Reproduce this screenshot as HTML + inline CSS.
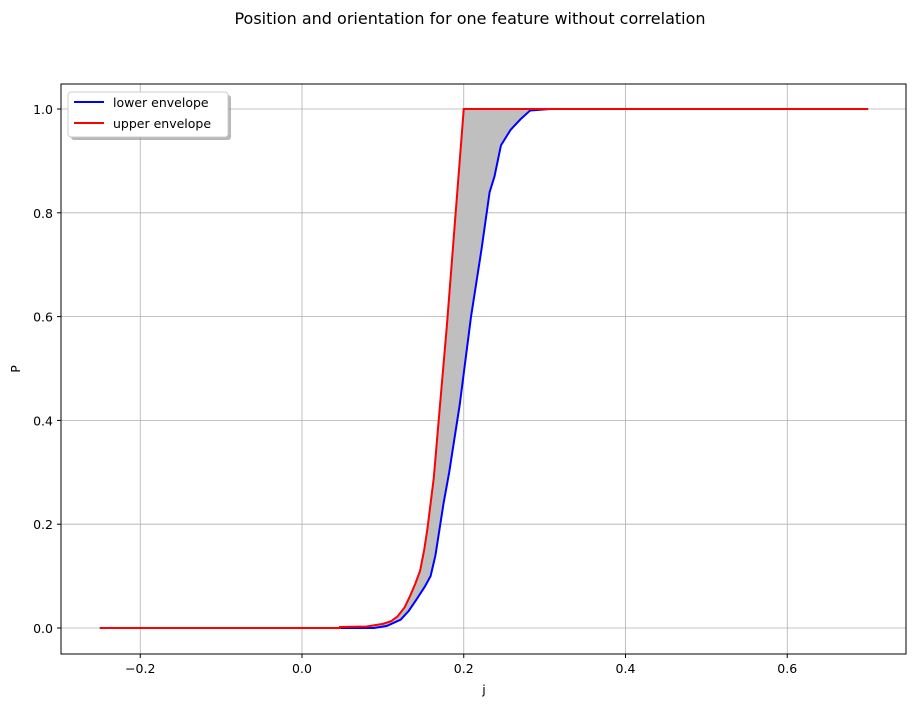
<!DOCTYPE html>
<html><head><meta charset="utf-8"><style>
body{margin:0;background:#fff;font-family:"Liberation Sans","DejaVu Sans",sans-serif}
svg text{font-family:"DejaVu Sans","Liberation Sans",sans-serif}
</style></head><body>
<svg id="chart" width="916" height="707">
<text x="470" y="24" font-size="16" text-anchor="middle">Position and orientation for one feature without correlation</text>
<g id="grid"></g>
<g id="series"></g>
<rect x="61" y="84" width="845" height="570" fill="none" stroke="#000" stroke-width="1"/>
<g id="axes"></g>
<text x="484" y="694" font-size="12.5" text-anchor="middle">j</text>
<text x="20" y="369" font-size="12.5" text-anchor="middle" transform="rotate(-90 20 369)">P</text>
<g>
<rect x="71" y="95" width="160" height="45" rx="3" fill="#888" opacity="0.6"/>
<rect x="68" y="92" width="160" height="45" rx="3" fill="#fff" stroke="#ccc"/>
<line x1="74" y1="102" x2="104" y2="102" stroke="#0000ff" stroke-width="2"/>
<text x="113" y="107" font-size="12.5">lower envelope</text>
<line x1="74" y1="123" x2="104" y2="123" stroke="#ff0000" stroke-width="2"/>
<text x="113" y="128" font-size="12.5">upper envelope</text>
</g>
</svg>
<script>
const xTicks=[-0.2,0.0,0.2,0.4,0.6];
const yTicks=[0.0,0.2,0.4,0.6,0.8,1.0];
const upperX=[-0.25,0.047,0.047,0.08,0.1,0.11,0.118,0.127,0.134,0.14,0.146,0.151,0.155,0.159,0.163,0.169,0.179,0.192,0.2,0.7];
const upperP=[0,0,0.002,0.003,0.008,0.013,0.022,0.04,0.063,0.085,0.11,0.15,0.19,0.24,0.29,0.40,0.58,0.84,1.0,1.0];
const lowerX=[-0.25,0.089,0.105,0.122,0.132,0.142,0.152,0.159,0.165,0.17,0.175,0.182,0.195,0.209,0.222,0.232,0.238,0.246,0.258,0.27,0.282,0.307,0.7];
const lowerP=[0,0,0.004,0.016,0.033,0.056,0.08,0.10,0.14,0.19,0.24,0.30,0.43,0.60,0.73,0.84,0.87,0.93,0.96,0.98,0.997,1.0,1.0];
const sx=v=>302+v*808.75, sy=v=>628-v*519;
const NS='http://www.w3.org/2000/svg';
const mk=(t,a,p)=>{const e=document.createElementNS(NS,t);for(const k in a)e.setAttribute(k,a[k]);p.appendChild(e);return e;};
const grid=document.getElementById('grid'),axes=document.getElementById('axes'),ser=document.getElementById('series');
xTicks.forEach(v=>{
 const g=mk('line',{x1:sx(v),x2:sx(v),y1:84,y2:654,stroke:'#b0b0b0','stroke-width':0.8},grid);
 
 
 mk('line',{x1:sx(v),x2:sx(v),y1:654,y2:658,stroke:'#000'},axes);
 const t=mk('text',{x:sx(v),y:673,'font-size':12.5,'text-anchor':'middle'},axes);
 t.textContent=(v<0?'\u2212':'')+Math.abs(v).toFixed(1);
 
 
});
yTicks.forEach(v=>{
 const g=mk('line',{x1:61,x2:906,y1:sy(v),y2:sy(v),stroke:'#b0b0b0','stroke-width':0.8},grid);
 
 
 mk('line',{x1:57,x2:61,y1:sy(v),y2:sy(v),stroke:'#000'},axes);
 const t=mk('text',{x:53,y:sy(v)+5,'font-size':12.5,'text-anchor':'end'},axes);
 t.textContent=v.toFixed(1);
 
 
});
const up=upperX.map((x,i)=>sx(x)+','+sy(upperP[i]));
const lo=lowerX.map((x,i)=>sx(x)+','+sy(lowerP[i]));
const f=mk('polygon',{points:up.concat(lo.slice().reverse()).join(' '),fill:'#bfbfbf',stroke:'none'},ser);


const l=mk('polyline',{points:lo.join(' '),fill:'none',stroke:'#0000ff','stroke-width':2},ser);


const u=mk('polyline',{points:up.join(' '),fill:'none',stroke:'#ff0000','stroke-width':2},ser);


</script>
</body></html>
